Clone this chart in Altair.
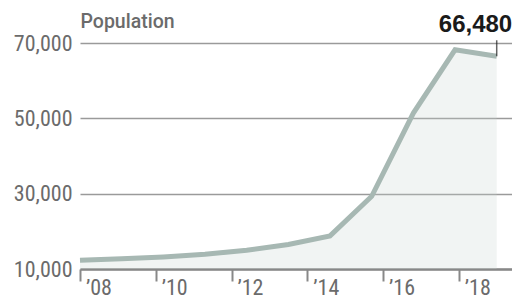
import altair as alt
import pandas as pd

years = [2008, 2009, 2010, 2011, 2012, 2013, 2014, 2015, 2016, 2017, 2018]
population = [12300, 12700, 13200, 13900, 15000, 16500, 18800, 29300, 51400, 68200, 66480]

y_ticks = [10000, 30000, 50000, 70000]
label_years = [2008, 2010, 2012, 2014, 2016, 2018]
label_texts = ["\u201908", "\u201910", "\u201912", "\u201914", "\u201916", "\u201918"]

n_bands = len(years)
span = years[-1] - years[0]
band = span / n_bands
tick_pos = [years[0] + k * band for k in range(n_bands + 1)]
label_pos = [years[0] + ((y - years[0]) + 0.5) * band for y in label_years]

W, H = 432, 226
x_dom = [2008, 2018.367]
y_dom = [10000, 70000]

df = pd.DataFrame({"year": years, "pop": population})
lab = pd.DataFrame({"pos": label_pos, "txt": label_texts})
last = df.tail(1)

COND = "Roboto Condensed"

xs = alt.Scale(domain=x_dom, nice=False, zero=False)
ys = alt.Scale(domain=y_dom, nice=False, zero=False)

x_axis = alt.Axis(values=tick_pos, labels=False, tickSize=12, tickWidth=2,
                  tickColor="#888888", domainColor="#888888", domainWidth=2.5,
                  grid=False, title=None)
y_axis = alt.Axis(values=y_ticks, format=",d", grid=True, gridColor="#9a9a9a",
                  gridWidth=1.3, domain=False, ticks=False, labelPadding=8,
                  labelFont=COND, labelFontSize=22, labelColor="#6b6b6b",
                  labelBaseline="middle",
                  title="Population", titleAngle=0, titleAlign="left", titleX=0,
                  titleY=-16, titleBaseline="alphabetic", titleFont="Roboto",
                  titleFontWeight=500, titleFontSize=19.5, titleColor="#6b6b6b")

base = alt.Chart(df)

area = base.mark_area(color="#c8d4cf", opacity=0.25).encode(
    x=alt.X("year:Q", scale=xs, axis=x_axis),
    y=alt.Y("pop:Q", scale=ys, axis=y_axis),
    y2=alt.datum(y_dom[0]),
)

line = base.mark_line(color="#a7b8b3", strokeWidth=5, strokeJoin="miter").encode(
    x=alt.X("year:Q", scale=xs),
    y=alt.Y("pop:Q", scale=ys),
)

labels = alt.Chart(lab).mark_text(font=COND, fontSize=22, color="#6b6b6b",
                                  baseline="alphabetic", align="center").encode(
    x=alt.X("pos:Q", scale=xs),
    y=alt.value(252),
    text="txt:N",
)

leader = alt.Chart(last).mark_tick(orient="vertical", size=16, thickness=1.5,
                                   color="#222222", yOffset=-8).encode(
    x=alt.X("year:Q", scale=xs),
    y=alt.Y("pop:Q", scale=ys),
)

annot = alt.Chart(last).mark_text(font="Liberation Sans", fontWeight="bold",
                                  fontSize=24, color="#1a1a1a", align="right",
                                  baseline="alphabetic", dx=15.5, dy=-24.5).encode(
    x=alt.X("year:Q", scale=xs),
    y=alt.Y("pop:Q", scale=ys),
    text=alt.Text("pop:Q", format=",d"),
)

chart = alt.layer(area, line, labels, leader, annot).properties(
    width=W, height=H,
    autosize=alt.AutoSizeParams(type="none"),
    padding={"left": 72, "top": 35, "right": 0, "bottom": 36},
).configure_view(stroke=None)

chart.save("out.html", embed_options={"renderer": "svg", "actions": False})
